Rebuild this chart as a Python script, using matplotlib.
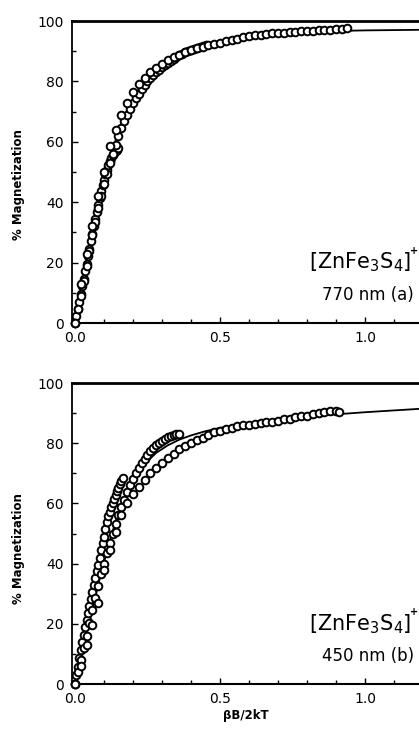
import numpy as np
import matplotlib
matplotlib.use("Agg")
import matplotlib.pyplot as plt
from matplotlib.ticker import MultipleLocator

plt.rcParams['font.family'] = ['DejaVu Sans']

# ---- panel (a) 770 nm : three isotherms + fit ----
a1_x = [0, .005, .01, .015, .02, .025, .03, .035, .04, .045, .05, .055, .06, .065, .07, .075,
        .08, .085, .09, .095, .10, .105, .11, .115, .12, .125, .13, .135, .14, .145, .15]
a1_y = [0, 2.3, 4.7, 7.1, 9.6, 12.1, 14.6, 17.1, 19.6, 22.1, 24.6, 27.1, 29.6, 32.1, 34.5, 36.9,
        39.2, 41.5, 43.6, 45.6, 47.5, 49.2, 50.8, 52.2, 53.5, 54.6, 55.5, 56.3, 56.9, 57.4, 57.8]

a2_x = [0, .01, .02, .03, .04, .05, .06, .07, .08, .09, .10, .11, .12, .13, .14, .15,
        .16, .17, .18, .19, .20, .21, .22, .23, .24, .25, .26, .27, .28, .29, .30, .31,
        .32, .33, .34, .35, .36, .37, .38, .39, .40, .41, .42, .43, .44, .45]
a2_y = [0, 4.5, 9, 14, 19, 24, 29, 33.5, 38, 42, 46, 49.5, 53, 56, 59, 62,
        64.5, 67, 69, 71, 72.8, 74.5, 76, 77.4, 78.8, 80, 81, 82, 83, 83.9, 84.7, 85.5,
        86.2, 86.9, 87.5, 88.1, 88.6, 89.1, 89.6, 90, 90.4, 90.8, 91.1, 91.4, 91.7, 91.9]

a3_x = [0.00, 0.02, 0.04, 0.06, 0.08, 0.10, 0.12, 0.14, 0.16, 0.18, 0.20, 0.22,
        0.24, 0.26, 0.28, 0.30, 0.32, 0.34, 0.36, 0.38, 0.40, 0.42, 0.44, 0.46,
        0.48, 0.50, 0.52, 0.54, 0.56, 0.58, 0.60, 0.62, 0.64, 0.66, 0.68, 0.70,
        0.72, 0.74, 0.76, 0.78, 0.80, 0.82, 0.84, 0.86, 0.88, 0.90, 0.92, 0.937]
a3_y = [0, 13, 23, 32, 42, 50, 58.5, 64, 69, 73, 76.5, 79,
        81.2, 83, 84.5, 85.8, 87, 88, 88.9, 89.7, 90.4, 91, 91.5, 92,
        92.4, 92.8, 93.3, 93.8, 94.2, 94.6, 95, 95.3, 95.5, 95.7, 95.9, 96.1,
        96.2, 96.4, 96.5, 96.6, 96.7, 96.8, 96.9, 97, 97.1, 97.2, 97.4, 97.6]

afit_x = [0, 0.02, 0.04, 0.06, 0.08, 0.10, 0.12, 0.14, 0.16, 0.18, 0.20, 0.22, 0.25,
          0.28, 0.32, 0.36, 0.40, 0.45, 0.50, 0.55, 0.60, 0.70, 0.80, 0.90, 1.00, 1.10, 1.20]
afit_y = [0, 10, 20, 29.5, 38.5, 46.5, 54, 60.5, 66, 70.5, 74.3, 77.5, 81.2,
          84, 86.8, 88.8, 90.3, 91.7, 92.8, 93.8, 94.6, 95.7, 96.3, 96.7, 96.9, 97.0, 97.1]

# ---- panel (b) 450 nm ----
b1_x = [0, .005, .01, .015, .02, .025, .03, .035, .04, .045, .05, .055, .06, .065, .07, .075,
        .08, .085, .09, .095, .10, .105, .11, .115, .12, .125, .13, .135, .14, .145, .15,
        .155, .16, .165]
b1_y = [0, 2.9, 5.7, 8.5, 11.2, 13.8, 16.3, 18.8, 21.2, 23.6, 26, 28.3, 30.6, 32.9, 35.2, 37.4,
        39.7, 42, 44.5, 46.8, 49, 51.5, 53.8, 55.7, 57.3, 58.8, 60.2, 61.5, 62.8, 64, 65.2,
        66.3, 67.4, 68.4]

b2_x = [0, .01, .02, .03, .04, .05, .06, .07, .08, .09, .10, .11, .12, .13, .14, .15,
        .16, .17, .18, .19, .20, .21, .22, .23, .24, .25, .26, .27, .28, .29, .30, .31,
        .32, .33, .34, .35, .36]
b2_y = [0, 4, 8, 12, 16, 20.3, 24.5, 28.5, 32.5, 36.5, 40, 43.5, 47, 50, 53, 56,
        58.8, 61.3, 63.7, 66, 68, 70, 71.8, 73.4, 74.9, 76.2, 77.4, 78.5, 79.4, 80.2, 80.9, 81.5,
        82, 82.4, 82.7, 82.9, 83]

b3_x = [0.00, 0.02, 0.04, 0.06, 0.08, 0.10, 0.12, 0.14, 0.16, 0.18, 0.20, 0.22,
        0.24, 0.26, 0.28, 0.30, 0.32, 0.34, 0.36, 0.38, 0.40, 0.42, 0.44, 0.46,
        0.48, 0.50, 0.52, 0.54, 0.56, 0.58, 0.60, 0.62, 0.64, 0.66, 0.68, 0.70,
        0.72, 0.74, 0.76, 0.78, 0.80, 0.82, 0.84, 0.86, 0.88, 0.90, 0.91]
b3_y = [0, 6, 13, 19.5, 27, 38, 44.5, 50.5, 56, 60, 63, 65.5,
        67.8, 70, 71.8, 73.5, 75, 76.5, 78, 79, 80, 81, 81.8, 82.8,
        83.6, 84.2, 84.8, 85.2, 85.6, 85.9, 86.2, 86.4, 86.6, 86.9, 87.2, 87.5,
        87.9, 88.2, 88.6, 88.9, 89.2, 89.6, 90, 90.4, 90.8, 90.6, 90.4]

bfit_x = [0, 0.02, 0.04, 0.06, 0.08, 0.10, 0.12, 0.14, 0.16, 0.18, 0.20, 0.22, 0.25,
          0.28, 0.32, 0.36, 0.40, 0.45, 0.50, 0.55, 0.60, 0.70, 0.80, 0.90, 1.00, 1.10, 1.20]
bfit_y = [0, 8.5, 17, 25, 33, 40.5, 47.5, 54, 59.5, 64, 67.5, 70.5, 74,
          76.8, 79.3, 81.2, 82.6, 84, 85.1, 85.9, 86.6, 87.8, 88.8, 89.6, 90.3, 90.9, 91.5]

panels = [
    ([(a1_x, a1_y), (a2_x, a2_y), (a3_x, a3_y)], (afit_x, afit_y), '770 nm (a)',
     [0.172, 0.5575, 0.828, 0.4137], False, 0.457),
    ([(b1_x, b1_y), (b2_x, b2_y), (b3_x, b3_y)], (bfit_x, bfit_y), '450 nm (b)',
     [0.172, 0.063, 0.828, 0.4123], True, 0.45),
]

fig = plt.figure(figsize=(4.19, 7.30), dpi=100)

for sets, fit, tag, rect, xlab, ly in panels:
    ax = fig.add_axes(rect)
    ax.plot(fit[0], fit[1], color='black', lw=1.3, zorder=2)
    for xs, ys in sets:
        ax.plot(xs, ys, 'o', ms=5.5, mfc='white', mec='black', mew=1.4, zorder=3, clip_on=False)
    ax.set_xlim(-0.01, 1.186)
    ax.set_ylim(0, 100)
    ax.spines['right'].set_visible(False)
    ax.spines['top'].set_linewidth(2)
    ax.spines['left'].set_linewidth(1.3)
    ax.spines['bottom'].set_linewidth(1.5)
    ax.set_xticks([0, 0.5, 1.0])
    ax.set_xticklabels(['0.0', '0.5', '1.0'])
    ax.xaxis.set_minor_locator(MultipleLocator(0.1))
    ax.set_yticks([0, 20, 40, 60, 80, 100])
    ax.yaxis.set_minor_locator(MultipleLocator(10))
    ax.tick_params(which='both', direction='in', top=False, right=False, labelsize=10, pad=6)
    ax.tick_params(which='major', length=4, width=1)
    ax.tick_params(which='minor', length=3, width=1)
    ax.set_ylabel('% Magnetization', fontsize=8.5, fontweight='bold')
    ax.yaxis.set_label_coords(-0.135, ly)
    if xlab:
        ax.set_xlabel('\u03b2B/2kT', fontsize=8.5, fontweight='bold', labelpad=2)
    ax.text(0.977, 0.20, r'[ZnFe$_{\mathregular{3}}$S$_{\mathregular{4}}$]',
            transform=ax.transAxes, ha='right', va='center', fontsize=15)
    ax.text(0.974, 0.24, '+', transform=ax.transAxes, ha='left', va='center',
            fontsize=7, fontweight='bold')
    ax.text(0.985, 0.092, tag, transform=ax.transAxes, ha='right', va='center', fontsize=12)

fig.savefig('out.png', dpi=100)
